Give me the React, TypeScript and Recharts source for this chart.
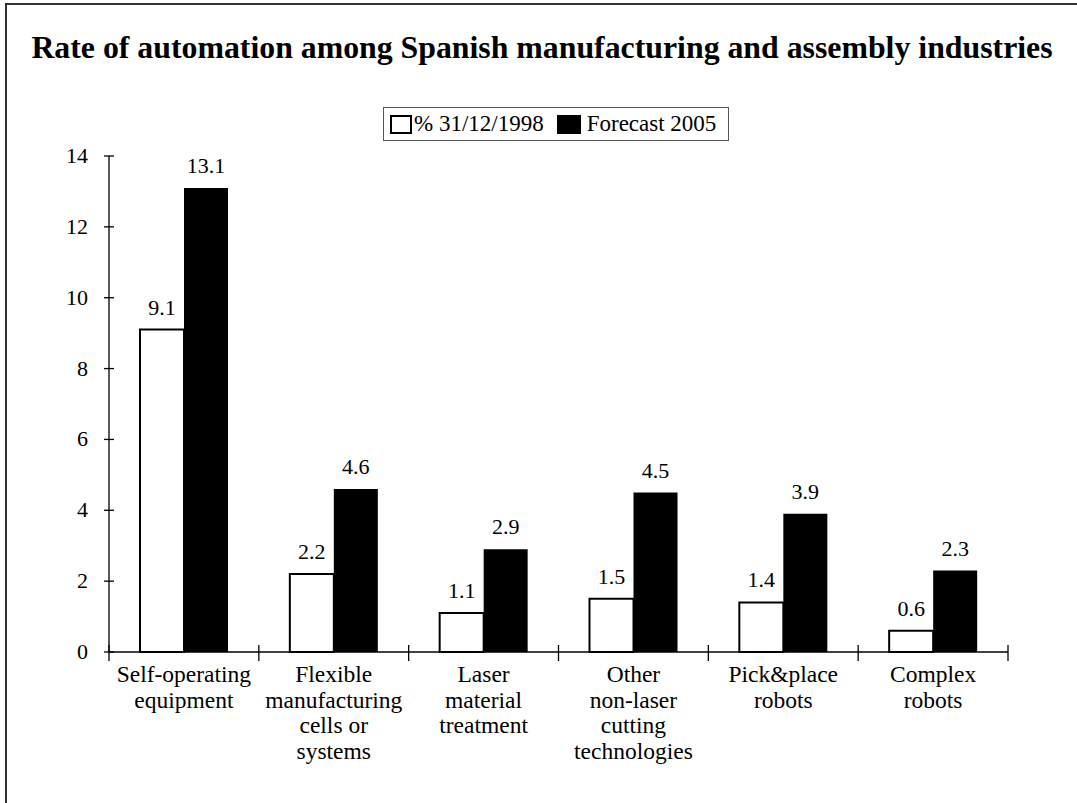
import React from 'react';
import { BarChart, Bar, XAxis, YAxis, LabelList } from 'recharts';

// categories (line breaks as in the original axis labels)
const categories = [
  'Self-operating\nequipment',
  'Flexible\nmanufacturing\ncells or\nsystems',
  'Laser\nmaterial\ntreatment',
  'Other\nnon-laser\ncutting\ntechnologies',
  'Pick&place\nrobots',
  'Complex\nrobots',
];
const rate1998 = [9.1, 2.2, 1.1, 1.5, 1.4, 0.6];
const forecast2005 = [13.1, 4.6, 2.9, 4.5, 3.9, 2.3];
const yTicks = [0, 2, 4, 6, 8, 10, 12, 14];
const seriesNames = ['% 31/12/1998', 'Forecast 2005'];

const data = categories.map((name, i) => ({
  name,
  y1998: rate1998[i],
  y2005: forecast2005[i],
}));

const FONT = '"Liberation Serif", "Times New Roman", serif';
const W = 1077;
const H = 803;
const margin = { top: 156, right: 69, bottom: 51, left: 49 };
const yAxisWidth = 60;
const plotWidth = W - margin.left - yAxisWidth - margin.right;
const band = plotWidth / categories.length;

const YTick = (props: any) => {
  const { x, y, payload } = props;
  return (
    <g>
      <line x1={x - 5} x2={x + 5} y1={y} y2={y} stroke="#000" strokeWidth={1.3} />
      <text x={x - 21} y={y} dy={7} textAnchor="end" fontSize={22} fontFamily={FONT} fill="#000">
        {payload.value}
      </text>
    </g>
  );
};

const XTick = (props: any) => {
  const { x, y, payload, index } = props;
  const lines = String(payload.value).split('\n');
  return (
    <g>
      {index === 0 && (
        <line x1={x - band / 2} x2={x - band / 2} y1={y - 7} y2={y + 9} stroke="#000" strokeWidth={1.3} />
      )}
      <line x1={x + band / 2} x2={x + band / 2} y1={y - 7} y2={y + 9} stroke="#000" strokeWidth={1.3} />
      <text textAnchor="middle" fontSize={23.5} fontFamily={FONT} fill="#000">
        {lines.map((l, i) => (
          <tspan key={i} x={x} y={y + 30 + i * 25.5}>
            {l}
          </tspan>
        ))}
      </text>
    </g>
  );
};

export default function App() {
  return (
    <div style={{ position: 'absolute', left: 0, top: 0, width: W, height: H, overflow: 'hidden', background: '#fff', fontFamily: FONT }}>
      {/* outer frame, only left and top edges fall inside the picture */}
      <div
        style={{
          position: 'absolute',
          left: 5,
          top: 3,
          width: W + 10,
          height: H + 10,
          border: '2px solid #333',
          boxSizing: 'border-box',
        }}
      />
      <div
        style={{
          position: 'absolute',
          left: 0,
          width: 1084,
          top: 29.5,
          textAlign: 'center',
          fontWeight: 'bold',
          fontSize: 31.8,
          lineHeight: 'normal',
          color: '#000',
          whiteSpace: 'nowrap',
        }}
      >
        Rate of automation among Spanish manufacturing and assembly industries
      </div>
      <div
        style={{
          position: 'absolute',
          left: 383,
          top: 107,
          width: 346,
          height: 34,
          border: '1.5px solid #555',
          boxSizing: 'border-box',
          display: 'flex',
          alignItems: 'center',
          fontSize: 23,
          color: '#000',
          paddingLeft: 6,
          whiteSpace: 'nowrap',
        }}
      >
        <span style={{ display: 'inline-block', width: 18, height: 15, border: '2px solid #000', background: '#fff', marginRight: 2 }} />
        <span style={{ marginRight: 13 }}>{seriesNames[0]}</span>
        <span style={{ display: 'inline-block', width: 24, height: 19, background: '#000', marginRight: 6 }} />
        <span>{seriesNames[1]}</span>
      </div>
      <div style={{ position: 'absolute', left: 0, top: 0 }}>
        <BarChart width={W} height={H} data={data} margin={margin} barGap={0} barCategoryGap={31}>
          <XAxis
            dataKey="name"
            interval={0}
            height={100}
            tickSize={0}
            tickMargin={0}
            tickLine={false}
            axisLine={{ stroke: '#000', strokeWidth: 1.3 }}
            tick={<XTick />}
          />
          <YAxis
            width={yAxisWidth}
            domain={[0, 14]}
            ticks={yTicks}
            interval={0}
            tickSize={0}
            tickMargin={0}
            tickLine={false}
            axisLine={{ stroke: '#000', strokeWidth: 1.3 }}
            tick={<YTick />}
          />
          <Bar dataKey="y1998" name={seriesNames[0]} fill="#fff" stroke="#000" strokeWidth={2} isAnimationActive={false}>
            <LabelList dataKey="y1998" position="top" offset={15} fontSize={22} fontFamily={FONT} fill="#000" />
          </Bar>
          <Bar dataKey="y2005" name={seriesNames[1]} fill="#000" isAnimationActive={false}>
            <LabelList dataKey="y2005" position="top" offset={15} fontSize={22} fontFamily={FONT} fill="#000" />
          </Bar>
        </BarChart>
      </div>
    </div>
  );
}
